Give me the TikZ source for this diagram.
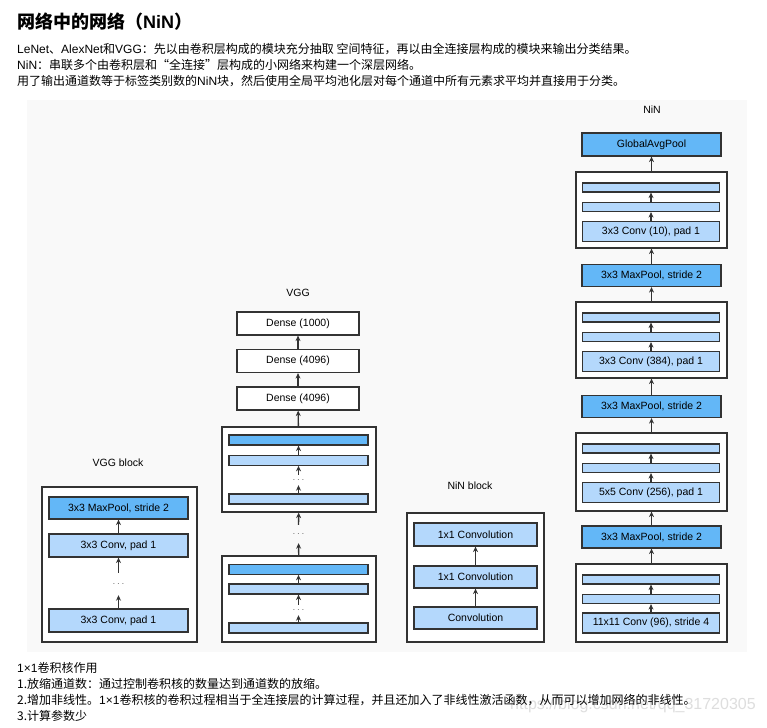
\documentclass[tikz,border=0pt]{standalone}
\usepackage{fontspec}
\setmainfont{Liberation Sans}
\newfontfamily\cjk{Noto Sans CJK SC}
\newfontfamily\lat{Liberation Sans}
\usetikzlibrary{arrows.meta}
\definecolor{dblue}{RGB}{99,183,247}
\definecolor{lblue}{RGB}{180,216,252}
\definecolor{panel}{RGB}{249,249,249}
\definecolor{edge}{RGB}{51,51,51}
\definecolor{wmark}{RGB}{222,222,222}
\begin{document}
\begin{tikzpicture}[x=1pt,y=-1pt,
  box/.style={draw=edge,line width=1.2pt,inner sep=0pt,font=\fontsize{10.5}{12}\selectfont},
  lbox/.style={box,fill=lblue},
  dbox/.style={box,fill=dblue},
  wbox/.style={box,fill=white},
  blk/.style={draw=edge,line width=1.2pt,fill=white,inner sep=0pt},
  arr/.style={-{Stealth[length=5.5pt,width=5pt]},draw=edge,line width=1.3pt},
  lab/.style={font=\fontsize{10.5}{12}\selectfont,inner sep=0pt},
  dotn/.style={font=\fontsize{10}{10}\selectfont,text=black!60,inner sep=0pt},
  txt/.style={anchor=west,inner sep=0pt,font=\cjk\fontsize{12}{14}\selectfont}
]
\useasboundingbox (0,0) rectangle (767,727);
\fill[white] (0,0) rectangle (767,727);
\fill[panel] (27,100) rectangle (747,652);

% ---------- top text ----------
\node[txt,font=\cjk\bfseries\fontsize{18}{20}\selectfont] (title) at (17,22) {网络中的网络（{\lat\bfseries NiN}）};
\node[txt] (t1) at (17,49) {{\lat LeNet}、{\lat AlexNet}和{\lat VGG}：先以由卷积层构成的模块充分抽取 空间特征，再以由全连接层构成的模块来输出分类结果。};
\node[txt] (t2) at (17,65) {{\lat NiN}：串联多个由卷积层和“全连接”层构成的小网络来构建一个深层网络。};
\node[txt] (t3) at (17,81) {用了输出通道数等于标签类别数的{\lat NiN}块，然后使用全局平均池化层对每个通道中所有元素求平均并直接用于分类。};

% ---------- VGG block ----------
\node[lab] (vbl) at (118,463) {VGG block};
\node[blk,minimum width=155pt,minimum height=155pt] (vbo) at (119.5,564.5) {};
\node[dbox,minimum width=139pt,minimum height=22pt] (vbm) at (118.5,508) {3x3 MaxPool, stride 2};
\node[lbox,minimum width=139pt,minimum height=23pt] (vbc1) at (118.5,545.5) {3x3 Conv, pad 1};
\node[dotn,minimum height=22pt] (vbd) at (118.5,584) {$\cdots$};
\node[lbox,minimum width=139pt,minimum height=23pt] (vbc2) at (118.5,620.5) {3x3 Conv, pad 1};
\draw[arr] (vbc1) -- (vbm);
\draw[arr] (vbd) -- (vbc1);
\draw[arr] (vbc2) -- (vbd);

% ---------- VGG ----------
\node[lab] (vgl) at (298,293) {VGG};
\node[wbox,minimum width=122pt,minimum height=23pt] (d1) at (298,323.5) {Dense (1000)};
\node[wbox,minimum width=122pt,minimum height=23pt] (d2) at (298,361) {Dense (4096)};
\node[wbox,minimum width=122pt,minimum height=23pt] (d3) at (298,398.5) {Dense (4096)};
% upper block
\node[blk,minimum width=154pt,minimum height=85pt] (vu) at (299,469.5) {};
\node[dbox,minimum width=139pt,minimum height=10pt] (vud) at (298.5,440) {};
\node[lbox,minimum width=139pt,minimum height=9.5pt] (vul1) at (298.5,460.5) {};
\node[dotn,minimum height=10pt] (vudots) at (298.5,480) {$\cdots$};
\node[lbox,minimum width=139pt,minimum height=10pt] (vul2) at (298.5,499) {};
% between
\node[dotn,minimum height=18pt] (vmid) at (298.5,534) {$\cdots$};
% lower block
\node[blk,minimum width=154pt,minimum height=86pt] (vl) at (299,599) {};
\node[dbox,minimum width=139pt,minimum height=9.5pt] (vld) at (298.5,569.5) {};
\node[lbox,minimum width=139pt,minimum height=10pt] (vll1) at (298.5,589) {};
\node[dotn,minimum height=10pt] (vldots) at (298.5,610) {$\cdots$};
\node[lbox,minimum width=139pt,minimum height=10pt] (vll2) at (298.5,628) {};
\draw[arr] (d2) -- (d1);
\draw[arr] (d3) -- (d2);
\draw[arr] (vu) -- (d3);
\draw[arr] (vul1) -- (vud);
\draw[arr] (vudots) -- (vul1);
\draw[arr] (vul2) -- (vudots);
\draw[arr] (vmid) -- (vu);
\draw[arr] (vl) -- (vmid);
\draw[arr] (vll1) -- (vld);
\draw[arr] (vldots) -- (vll1);
\draw[arr] (vll2) -- (vldots);

% ---------- NiN block ----------
\node[lab] (nbl) at (470,486) {NiN block};
\node[blk,minimum width=137pt,minimum height=129pt] (nbo) at (475.5,577.5) {};
\node[lbox,minimum width=123pt,minimum height=23pt] (nb1) at (475.5,534.5) {1x1 Convolution};
\node[lbox,minimum width=123pt,minimum height=22pt] (nb2) at (475.5,577) {1x1 Convolution};
\node[lbox,minimum width=123pt,minimum height=22pt] (nb3) at (475.5,618) {Convolution};
\draw[arr] (nb2) -- (nb1);
\draw[arr] (nb3) -- (nb2);

% ---------- NiN ----------
\node[lab] (nl) at (652,110) {NiN};
\node[dbox,minimum width=139pt,minimum height=23pt] (gap) at (651.5,144.5) {GlobalAvgPool};
% block 1
\node[blk,minimum width=151pt,minimum height=76pt] (b1) at (651.5,210) {};
\node[lbox,minimum width=137pt,minimum height=9pt] (b1a) at (651,187.5) {};
\node[lbox,minimum width=137pt,minimum height=9pt] (b1b) at (651,207) {};
\node[lbox,minimum width=137pt,minimum height=20pt] (b1c) at (651,231.5) {3x3 Conv (10), pad 1};
\node[dbox,minimum width=139pt,minimum height=22pt] (mp1) at (651.5,275.5) {3x3 MaxPool, stride 2};
% block 2
\node[blk,minimum width=151pt,minimum height=76pt] (b2) at (651.5,340) {};
\node[lbox,minimum width=137pt,minimum height=9pt] (b2a) at (651,317.5) {};
\node[lbox,minimum width=137pt,minimum height=9pt] (b2b) at (651,337) {};
\node[lbox,minimum width=137pt,minimum height=20pt] (b2c) at (651,361.5) {3x3 Conv (384), pad 1};
\node[dbox,minimum width=139pt,minimum height=22pt] (mp2) at (651.5,406.5) {3x3 MaxPool, stride 2};
% block 3
\node[blk,minimum width=151pt,minimum height=78pt] (b3) at (651.5,472) {};
\node[lbox,minimum width=137pt,minimum height=9pt] (b3a) at (651,448.5) {};
\node[lbox,minimum width=137pt,minimum height=9pt] (b3b) at (651,468) {};
\node[lbox,minimum width=137pt,minimum height=20pt] (b3c) at (651,492.5) {5x5 Conv (256), pad 1};
\node[dbox,minimum width=139pt,minimum height=22pt] (mp3) at (651.5,537) {3x3 MaxPool, stride 2};
% block 4
\node[blk,minimum width=151pt,minimum height=78pt] (b4) at (651.5,603) {};
\node[lbox,minimum width=137pt,minimum height=9pt] (b4a) at (651,579.5) {};
\node[lbox,minimum width=137pt,minimum height=9pt] (b4b) at (651,599) {};
\node[lbox,minimum width=137pt,minimum height=20pt] (b4c) at (651,623) {11x11 Conv (96), stride 4};
\foreach \b in {b1,b2,b3,b4}{
  \draw[arr] (\b c) -- (\b b);
  \draw[arr] (\b b) -- (\b a);
}
\draw[arr] (b4) -- (mp3);
\draw[arr] (mp3) -- (b3);
\draw[arr] (b3) -- (mp2);
\draw[arr] (mp2) -- (b2);
\draw[arr] (b2) -- (mp1);
\draw[arr] (mp1) -- (b1);
\draw[arr] (b1) -- (gap);

% ---------- bottom text ----------
\node[anchor=west,inner sep=0pt,text=wmark,font=\fontsize{16}{18}\selectfont] (wm) at (510,705) {https://blog.csdn.net/qq\_31720305};
\node[txt] (s0) at (17,668) {{\lat 1×1}卷积核作用};
\node[txt] (s1) at (17,684) {1.放缩通道数：通过控制卷积核的数量达到通道数的放缩。};
\node[txt] (s2) at (17,700) {2.增加非线性。{\lat 1×1}卷积核的卷积过程相当于全连接层的计算过程，并且还加入了非线性激活函数，从而可以增加网络的非线性。};
\node[txt] (s3) at (17,716) {3.计算参数少};
\end{tikzpicture}
\end{document}
